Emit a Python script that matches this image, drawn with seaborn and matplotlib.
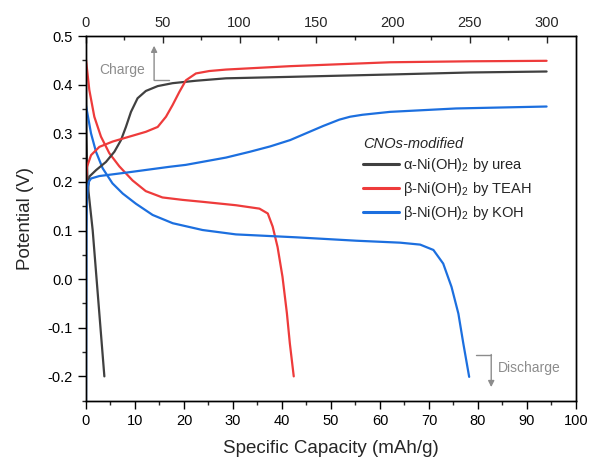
import numpy as np
import pandas as pd
import matplotlib
matplotlib.use("Agg")
import matplotlib.pyplot as plt
import seaborn as sns
from matplotlib.ticker import MultipleLocator

# ---------------- data ----------------
# Charge curves (top axis, 0-300)
urea_charge_t = [0, 1.1, 2.2, 6.5, 13, 18.5, 22.8, 26, 29.3, 33.6, 39, 46.7, 56.4, 71.6, 91.2, 133, 200, 250, 300]
urea_charge_v = [0.160, 0.176, 0.211, 0.224, 0.241, 0.262, 0.286, 0.313, 0.344, 0.372, 0.387, 0.397, 0.403, 0.408, 0.413, 0.416, 0.421, 0.425, 0.427]

teah_charge_t = [0, 0.65, 3.3, 8.7, 17.4, 28.2, 39, 46.7, 52.1, 56.4, 60.8, 65.1, 71.6, 80.3, 91.2, 133, 198, 250, 300]
teah_charge_v = [0.200, 0.231, 0.255, 0.272, 0.283, 0.293, 0.303, 0.313, 0.334, 0.358, 0.385, 0.409, 0.423, 0.428, 0.431, 0.438, 0.446, 0.448, 0.449]

koh_charge_t = [0, 0.3, 0.6, 1.1, 2.0, 3.3, 8.7, 26, 54.3, 65, 91.2, 106.8, 120, 133, 154.5, 165, 172, 180, 198, 241, 300]
koh_charge_v = [-0.26, 0.100, 0.160, 0.190, 0.201, 0.207, 0.212, 0.219, 0.231, 0.235, 0.250, 0.262, 0.273, 0.286, 0.315, 0.328, 0.334, 0.338, 0.344, 0.351, 0.355]

# Discharge curves (bottom axis, specific capacity)
urea_dis_q = [0, 0.08, 0.3, 1.37, 3.75]
urea_dis_v = [0.43, 0.30, 0.20, 0.10, -0.20]

teah_dis_q = [0, 0.68, 1.7, 3.06, 4.76, 6.8, 9.5, 12.2, 15.6, 19.7, 23.8, 30.6, 35.4, 37.1, 38.1, 39.1, 40.1, 41.0, 41.6, 42.4]
teah_dis_v = [0.451, 0.389, 0.334, 0.293, 0.259, 0.232, 0.203, 0.181, 0.168, 0.163, 0.159, 0.152, 0.145, 0.135, 0.108, 0.066, 0.005, -0.070, -0.132, -0.200]

koh_dis_q = [0, 1.02, 2.04, 3.4, 5.4, 7.5, 10.2, 13.6, 17.7, 23.8, 30.6, 42.9, 55.2, 64.1, 68.2, 70.9, 72.9, 74.6, 76.0, 77.0, 78.2]
koh_dis_v = [0.357, 0.300, 0.262, 0.228, 0.197, 0.176, 0.155, 0.132, 0.115, 0.101, 0.092, 0.086, 0.079, 0.075, 0.071, 0.060, 0.032, -0.016, -0.071, -0.132, -0.201]

labels = ["α-Ni(OH)$_2$ by urea", "β-Ni(OH)$_2$ by TEAH", "β-Ni(OH)$_2$ by KOH"]
colors = ["#404040", "#EE3B3B", "#1C6FDF"]

# ---------------- style ----------------
sns.set_style("ticks")
plt.rcParams["font.family"] = ["Liberation Sans", "DejaVu Sans"]
plt.rcParams["mathtext.fontset"] = "custom"
plt.rcParams["mathtext.rm"] = "Liberation Sans"
plt.rcParams["mathtext.it"] = "Liberation Sans:italic"

fig = plt.figure(figsize=(5.91, 4.57), dpi=100)
ax = fig.add_axes([0.1455, 0.1232, 0.9746 - 0.1455, 0.9212 - 0.1232])
axt = ax.twiny()

charge = [(urea_charge_t, urea_charge_v), (teah_charge_t, teah_charge_v), (koh_charge_t, koh_charge_v)]
dis = [(urea_dis_q, urea_dis_v), (teah_dis_q, teah_dis_v), (koh_dis_q, koh_dis_v)]

for (q, v), c in zip(dis, colors):
    df = pd.DataFrame({"x": q, "y": v})
    sns.lineplot(data=df, x="x", y="y", sort=False, ax=ax, color=c, lw=1.6, legend=False)

handles = []
for (t, v), c, lab in zip(charge, colors, labels):
    df = pd.DataFrame({"x": t, "y": v})
    sns.lineplot(data=df, x="x", y="y", sort=False, ax=axt, color=c, lw=1.6, legend=False)
    handles.append(axt.get_lines()[-1])

for a in (ax, axt):
    for ln in a.get_lines():
        ln.set_solid_joinstyle("round")

ax.set_xlim(0, 100)
ax.set_ylim(-0.25, 0.5)
axt.set_xlim(0, 300 * 100 / 94.0)
axt.set_ylim(-0.25, 0.5)

ax.xaxis.set_major_locator(MultipleLocator(10))
ax.xaxis.set_minor_locator(MultipleLocator(5))
ax.yaxis.set_major_locator(MultipleLocator(0.1))
ax.yaxis.set_minor_locator(MultipleLocator(0.05))
ax.yaxis.set_major_formatter(matplotlib.ticker.FuncFormatter(lambda v, p: f"{v:.1f}".replace("-0.0", "0.0")))
axt.xaxis.set_major_locator(MultipleLocator(50))
axt.xaxis.set_minor_locator(MultipleLocator(25))

for a in (ax, axt):
    for s in a.spines.values():
        s.set_visible(True)
        s.set_linewidth(1.0)
        s.set_color("black")

ax.tick_params(axis="both", which="major", direction="out", length=6, width=1, labelsize=10.5, colors="black")
ax.tick_params(axis="both", which="minor", direction="out", length=3, width=1)
ax.tick_params(right=False, top=False)
axt.tick_params(axis="x", which="major", direction="in", length=5, width=1, labelsize=10.5, pad=4)
axt.tick_params(axis="x", which="minor", direction="in", length=3, width=1)
axt.tick_params(axis="y", left=False, right=False, labelleft=False, labelright=False)

ax.set_xlabel("Specific Capacity (mAh/g)", fontsize=13.5, labelpad=9)
ax.set_ylabel("Potential (V)", fontsize=13.5, labelpad=10)
axt.set_xlabel("")
axt.set_ylabel("")

# annotations
gray = "#8C8C8C"
ax.text(7.3, 0.431, "Charge", color=gray, fontsize=10, ha="center", va="center")
ax.plot([16.9, 13.9], [0.409, 0.409], color=gray, lw=1)
ax.annotate("", xy=(13.9, 0.48), xytext=(13.9, 0.409),
            arrowprops=dict(arrowstyle="-|>", color=gray, lw=1, mutation_scale=9, shrinkA=0, shrinkB=0))
ax.text(90.4, -0.182, "Discharge", color=gray, fontsize=10, ha="center", va="center")
ax.plot([79.6, 82.7], [-0.155, -0.155], color=gray, lw=1)
ax.annotate("", xy=(82.7, -0.222), xytext=(82.7, -0.155),
            arrowprops=dict(arrowstyle="-|>", color=gray, lw=1, mutation_scale=9, shrinkA=0, shrinkB=0))

leg = axt.legend(handles, labels, title="CNOs-modified", loc="upper left",
                 bbox_to_anchor=(0.553, 0.74), frameon=False, fontsize=10.5,
                 handlelength=2.5, handletextpad=0.25, labelspacing=0.4,
                 borderaxespad=0, title_fontsize=10.5, alignment="left")
leg.get_title().set_fontstyle("italic")
for ln in leg.get_lines():
    ln.set_linewidth(2.2)

fig.savefig("out.png", dpi=100)
